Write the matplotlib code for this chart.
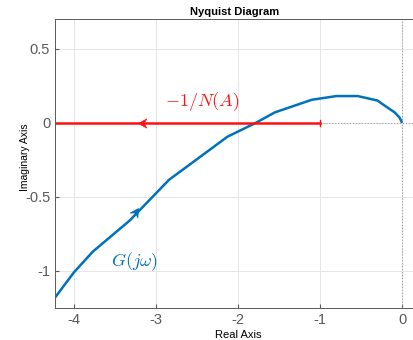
import matplotlib
matplotlib.use("Agg")
import matplotlib.pyplot as plt
from matplotlib.path import Path
from matplotlib.markers import MarkerStyle
from matplotlib.transforms import Affine2D
import numpy as np

plt.rcParams["font.family"] = ["Liberation Sans", "DejaVu Sans"]
plt.rcParams["mathtext.fontset"] = "cm"

# Nyquist curve G(jw)
g_re = [-4.23, -4.00, -3.77, -3.32, -2.84, -2.13, -1.78, -1.55, -1.10, -0.80, -0.54, -0.30, -0.21, -0.09, -0.03, 0.0]
g_im = [-1.18, -1.01, -0.87, -0.66, -0.385, -0.095, 0.0, 0.07, 0.155, 0.18, 0.18, 0.15, 0.115, 0.07, 0.035, 0.0]

# -1/N(A) locus
n_re = [-4.23, -1.0]
n_im = [0.0, 0.0]

xticks = [-4, -3, -2, -1, 0]
yticks = [-1, -0.5, 0, 0.5]
ytick_labels = ["-1", "-0.5", "0", "0.5"]
xtick_labels = ["-4", "-3", "-2", "-1", "0"]

blue = "#0072BD"
red = "#FF1010"

fig = plt.figure(figsize=(4.14, 3.40), dpi=100)
ax = fig.add_axes([55/414, 1-308/340, 1-55/414, (308-19)/340])

ax.set_xlim(-4.23, 0.146)
ax.set_ylim(-1.25, 0.70)

ax.grid(True, color="#e6e6e6", linewidth=0.7)
ax.set_axisbelow(True)

# MATLAB-style dotted axes
ax.plot([-1.0, 0.146], [0, 0], color="#a0a0a0", linestyle=":", linewidth=0.8)
ax.axvline(0, color="#a0a0a0", linestyle=":", linewidth=0.8)

ax.plot(g_re, g_im, color=blue, linewidth=1.8, solid_capstyle="butt")
ax.plot(n_re, n_im, color=red, linewidth=1.8)
ax.plot([n_re[1], n_re[1]], [-0.02, 0.02], color=red, linewidth=1.0)

# MATLAB-style notched arrow heads
head = Path([(0, 0), (-1.0, 0.55), (-0.65, 0), (-1.0, -0.55), (0, 0)],
            [Path.MOVETO, Path.LINETO, Path.LINETO, Path.LINETO, Path.CLOSEPOLY])

def arrow_head(x, y, x0, y0, color):
    fig.canvas.draw()
    p1 = ax.transData.transform((x0, y0))
    p2 = ax.transData.transform((x, y))
    ang = np.degrees(np.arctan2(p2[1] - p1[1], p2[0] - p1[0]))
    m = MarkerStyle(head, transform=Affine2D().rotate_deg(ang))
    ax.plot([x], [y], marker=m, markersize=12, color=color,
            markeredgewidth=0.5, linestyle="none")

arrow_head(-3.22, -0.574, -3.32, -0.66, blue)
arrow_head(-3.22, 0.0, -3.0, 0.0, red)

ax.text(-2.43, 0.14, r"$-1/N(A)$", color=red, fontsize=13, ha="center", va="center")
ax.text(-3.26, -0.94, r"$G(j\omega)$", color=blue, fontsize=13, ha="center", va="center")

ax.set_xticks(xticks)
ax.set_xticklabels(xtick_labels)
ax.set_yticks(yticks)
ax.set_yticklabels(ytick_labels)
ax.tick_params(colors="#5a5a5a", labelsize=10.5, length=3, direction="in")
for lab in ax.get_xticklabels() + ax.get_yticklabels():
    lab.set_color("#5a5a5a")

for s in ["left", "bottom", "top", "right"]:
    ax.spines[s].set_color("#5a5a5a")
    ax.spines[s].set_linewidth(0.7)

ax.set_title("Nyquist Diagram", fontsize=8, fontweight="bold", pad=3)
ax.set_xlabel("Real Axis", fontsize=8)
ax.set_ylabel("Imaginary Axis", fontsize=7.5)
ax.xaxis.set_label_coords((238-55)/359, -(335-308)/289)
ax.xaxis.label.set_va("center")
ax.yaxis.set_label_coords(-(55-25)/359, (308-157)/289)
ax.yaxis.label.set_va("center")

fig.savefig("out.png", dpi=100)
